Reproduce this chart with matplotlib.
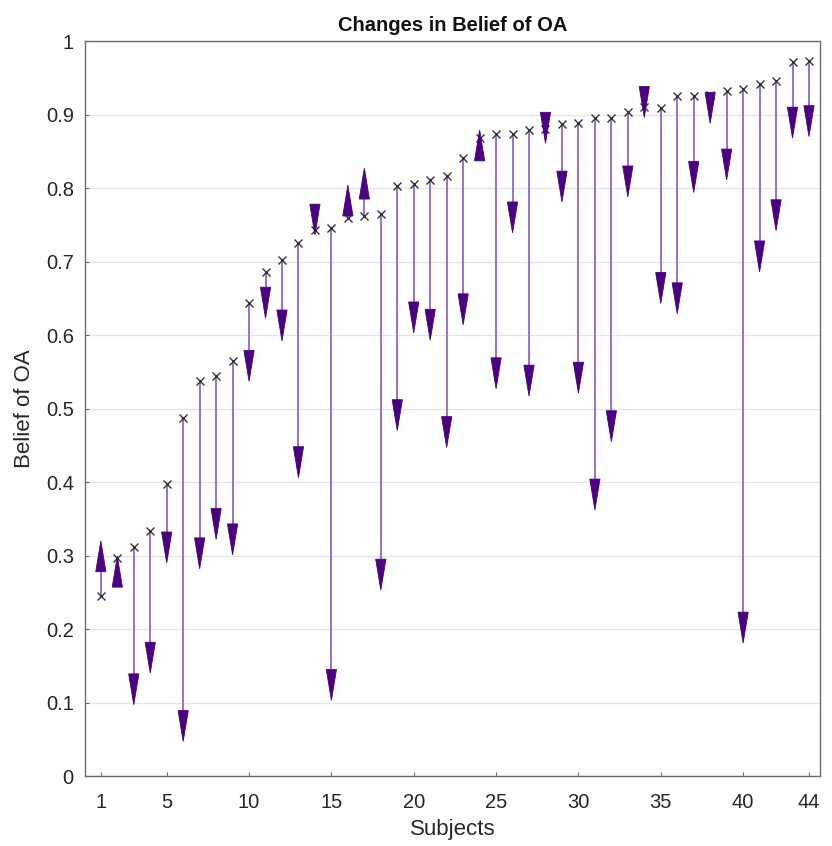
import numpy as np
import matplotlib
matplotlib.use("Agg")
import matplotlib.pyplot as plt
from matplotlib.patches import Polygon

plt.rcParams['font.family'] = ['Liberation Sans', 'DejaVu Sans']

# belief before (x markers) and after (arrow tips), subjects 1..44
subjects = np.arange(1, 45)
belief_before = [0.245, 0.297, 0.312, 0.334, 0.397, 0.487, 0.537, 0.544, 0.564, 0.644,
                 0.686, 0.702, 0.725, 0.743, 0.745, 0.759, 0.762, 0.764, 0.803, 0.805,
                 0.811, 0.817, 0.841, 0.868, 0.873, 0.873, 0.879, 0.880, 0.887, 0.888,
                 0.895, 0.895, 0.904, 0.910, 0.909, 0.925, 0.925, 0.927, 0.932, 0.935,
                 0.942, 0.945, 0.971, 0.973]
belief_after = [0.320, 0.299, 0.097, 0.140, 0.290, 0.047, 0.282, 0.322, 0.301, 0.537,
                0.623, 0.592, 0.406, 0.736, 0.103, 0.804, 0.827, 0.253, 0.470, 0.603,
                0.593, 0.447, 0.614, 0.879, 0.527, 0.739, 0.517, 0.861, 0.781, 0.521,
                0.362, 0.455, 0.788, 0.896, 0.643, 0.629, 0.794, 0.888, 0.811, 0.181,
                0.686, 0.742, 0.868, 0.870]
xticks = [1, 5, 10, 15, 20, 25, 30, 35, 40, 44]
yticks = np.round(np.arange(0, 1.01, 0.1), 1)

line_color = "#9b6fd0"
head_color = "#4b0082"
head_len = 0.042
head_half = 0.31

fig = plt.figure(figsize=(8.32, 8.46), dpi=100)
ax = fig.add_axes([0.102, 0.0827, 0.8836, 0.8688])

ax.plot(subjects, belief_before, linestyle="none", marker="x", color="#333333",
        markersize=6, markeredgewidth=1.0, zorder=3)

for x, y0, y1 in zip(subjects, belief_before, belief_after):
    d = 1 if y1 >= y0 else -1
    base = y1 - d * head_len
    # shaft stops at the head base
    if (base - y0) * d > 0:
        ax.plot([x, x], [y0, base], color=line_color, lw=1.4, zorder=2,
                solid_capstyle="butt")
    tri = Polygon([[x - head_half, base], [x + head_half, base], [x, y1]],
                  closed=True, facecolor=head_color, edgecolor=head_color,
                  lw=0.6, zorder=4)
    ax.add_patch(tri)

ax.set_xlim(0.03, 44.67)
ax.set_ylim(0, 1)
ax.set_xticks(xticks)
ax.set_yticks(yticks)
ax.set_yticklabels([("%g" % v) for v in yticks])
ax.grid(axis="y", color="#e3e3e3", lw=0.9)
ax.set_axisbelow(True)
for s in ax.spines.values():
    s.set_color("#6b6b6b")
    s.set_linewidth(1.0)
ax.tick_params(direction="in", length=3, color="#6b6b6b", labelsize=14.5,
               labelcolor="#262626")
ax.tick_params(axis="x", pad=12)
ax.tick_params(axis="y", pad=8)

ax.set_xlabel("Subjects", fontsize=16, color="#262626", labelpad=5)
ax.set_ylabel("Belief of OA", fontsize=16, color="#262626", labelpad=8)
ax.set_title("Changes in Belief of OA", fontsize=14.5, fontweight="bold",
             color="#111111", pad=7)

fig.savefig("out.png", dpi=100)
